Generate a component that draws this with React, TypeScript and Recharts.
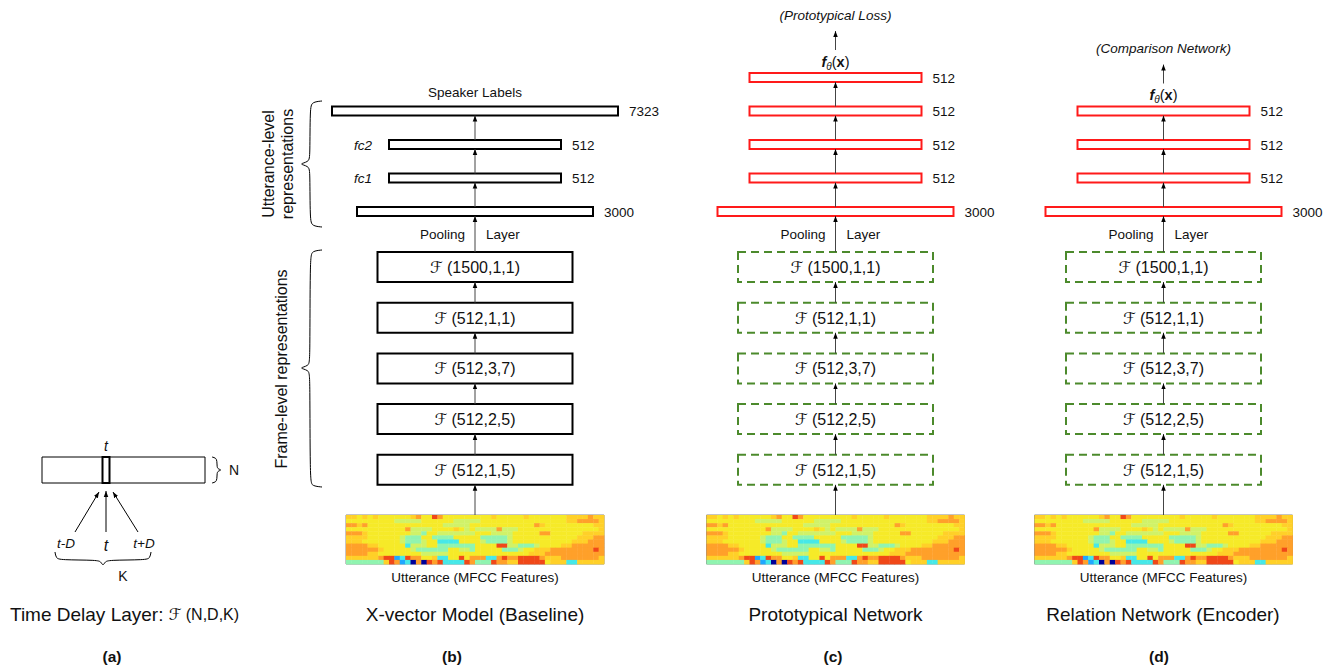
import React from "react";
import { ComposedChart, XAxis, YAxis, ReferenceArea, ReferenceLine, Scatter, Line } from "recharts";

const W = 1337;
const H = 668;
const FONT = "'Liberation Sans', Arial, sans-serif";
const SCRIPT = "'DejaVu Sans', sans-serif";
const GREEN = "#4c8a2c";
const RED = "#ff1a1a";

// layer specs
const frameLayers = ["(1500,1,1)", "(512,1,1)", "(512,3,7)", "(512,2,5)", "(512,1,5)"];
const xvecUnits = ["3000", "512", "512", "7323"];
const xvecNames = ["", "fc1", "fc2", "Speaker Labels"];
const protoUnits = ["3000", "512", "512", "512", "512"];
const relationUnits = ["3000", "512", "512", "512"];
const outputHeads = ["(Prototypical Loss)", "(Comparison Network)"];
const panelTitles = ["Time Delay Layer:", "X-vector Model (Baseline)", "Prototypical Network", "Relation Network (Encoder)"];
const panelLetters = ["(a)", "(b)", "(c)", "(d)"];
const delayLabels = ["t-D", "t", "t+D"];

// MFCC picture, one char per cell (0 = dark blue ... 9 = red)
const mfccRows = [
  "77676766 66667866 98666666 66676666 67666666 67777877",
  "66666666 65555566 66665555 56666666 66666666 67788887",
  "88786666 66666666 66555556 66666666 66687666 66666677",
  "66666666 66685555 66667656 55558555 66666666 66666667",
  "88876666 66665546 65555555 66655556 66668866 66667777",
  "77776666 66544466 44446666 64444456 66666666 66677788",
  "77766666 66544456 63333666 65444456 66666666 66777888",
  "88887766 66635556 64444444 66669955 44456666 77888888",
  "88888876 66665444 44466554 66666444 56677788 88888898",
  "88887766 66666655 55566666 66666666 66777888 88888888",
  "77777789 92398866 73366968 88338988 99998777 88888887",
  "44444447 98230809 89333398 44498877 99999677 73377777",
].map((r) => r.replace(/ /g, ""));

const jet: Record<string, string> = {
  "0": "#00009a",
  "1": "#0a3cff",
  "2": "#1ea8ff",
  "3": "#46e8e8",
  "4": "#90f4b0",
  "5": "#d0f268",
  "6": "#f6ea28",
  "7": "#ffd028",
  "8": "#ffa02a",
  "9": "#f04818",
};

type Rect = { x1: number; x2: number; y1: number; y2: number; stroke: string; sw: number; dash?: string; fill: string };
type Arrow = { x1: number; y1: number; x2: number; y2: number; color: string };
type Part = { t: string; italic?: boolean; bold?: boolean; size?: number; dy?: number; family?: string };
type Txt = { x: number; y: number; parts: Part[]; size: number; anchor?: string; rotate?: boolean; bold?: boolean; italic?: boolean };

const rects: Rect[] = [];
const arrows: Arrow[] = [];
const texts: Txt[] = [];
const braces: { x: number; y: number }[][] = [];
const cells: { x: number; y: number; c: string }[] = [];

const say = (x: number, y: number, t: string, size: number, o: Partial<Txt> = {}) =>
  texts.push({ x, y, parts: [{ t }], size, ...o });

const FRAME_TOP = 252;
const FRAME_STEP = 50.7;
const FRAME_H = 30;
const FRAME_W = 195;
const DENSE_BASE = 207;
const DENSE_STEP = 33.5;
const DENSE_H = 9;
const SPEC_TOP = 515;
const SPEC_H = 49;
const SPEC_W = 258;
const CW = SPEC_W / mfccRows[0].length;
const CH = SPEC_H / mfccRows.length;

const denseWidth = (u: string) => (u === "3000" ? 236 : u === "7323" ? 286 : 172);

const columns = [
  { cx: 475, units: xvecUnits, names: xvecNames, color: "#000", dashed: false, head: "" },
  { cx: 835.5, units: protoUnits, names: [] as string[], color: RED, dashed: true, head: outputHeads[0] },
  { cx: 1163.5, units: relationUnits, names: [] as string[], color: RED, dashed: true, head: outputHeads[1] },
];

columns.forEach((col) => {
  const { cx } = col;

  // spectrogram
  const sx = cx - SPEC_W / 2;
  mfccRows.forEach((row, r) =>
    row.split("").forEach((v, c) => cells.push({ x: sx + (c + 0.5) * CW, y: SPEC_TOP + (r + 0.5) * CH, c: jet[v] }))
  );
  rects.push({ x1: sx, x2: sx + SPEC_W, y1: SPEC_TOP, y2: SPEC_TOP + SPEC_H, stroke: "#8a8a8a", sw: 1, fill: "none" });
  say(cx, 577, "Utterance (MFCC Features)", 13.5);

  // frame-level layers
  const tops = frameLayers.map((_, i) => FRAME_TOP + i * FRAME_STEP);
  frameLayers.forEach((f, i) => {
    rects.push({
      x1: cx - FRAME_W / 2,
      x2: cx + FRAME_W / 2,
      y1: tops[i],
      y2: tops[i] + FRAME_H,
      stroke: col.dashed ? GREEN : "#000",
      sw: 2,
      dash: col.dashed ? "8 5" : undefined,
      fill: "none",
    });
    texts.push({ x: cx, y: tops[i] + FRAME_H / 2, parts: [{ t: "ℱ", family: SCRIPT }, { t: " " + f }], size: 16 });
    if (i > 0) arrows.push({ x1: cx, y1: tops[i], x2: cx, y2: tops[i - 1] + FRAME_H, color: "#444" });
  });
  arrows.push({ x1: cx, y1: SPEC_TOP, x2: cx, y2: tops[tops.length - 1] + FRAME_H, color: "#444" });

  // pooling
  arrows.push({ x1: cx, y1: tops[0], x2: cx, y2: DENSE_BASE + DENSE_H, color: "#444" });
  say(cx - 10, 234, "Pooling", 13.5, { anchor: "end" });
  say(cx + 11, 234, "Layer", 13.5, { anchor: "start" });

  // utterance-level layers
  col.units.forEach((u, k) => {
    const y1 = DENSE_BASE - k * DENSE_STEP;
    const w = denseWidth(u);
    rects.push({ x1: cx - w / 2, x2: cx + w / 2, y1, y2: y1 + DENSE_H, stroke: col.color, sw: 2, fill: "#fff" });
    say(cx + w / 2 + 11, y1 + DENSE_H / 2, u, 13.5, { anchor: "start" });
    if (k > 0) arrows.push({ x1: cx, y1: y1 + DENSE_STEP, x2: cx, y2: y1 + DENSE_H, color: "#444" });
    const nm = col.names[k];
    if (nm === "Speaker Labels") say(cx, y1 - 15, nm, 13.5);
    else if (nm) say(cx - 103, y1 + DENSE_H / 2, nm, 13.5, { anchor: "end", italic: true });
  });

  const topY = DENSE_BASE - (col.units.length - 1) * DENSE_STEP;
  if (col.head) {
    texts.push({
      x: cx,
      y: topY - 11.5,
      size: 14.5,
      parts: [
        { t: "f", italic: true, bold: true },
        { t: "θ", italic: true, size: 10, dy: 4 },
        { t: "(", dy: -4 },
        { t: "x", bold: true },
        { t: ")" },
      ],
    });
    arrows.push({ x1: cx, y1: topY - 23, x2: cx, y2: topY - 42, color: "#444" });
    say(cx, topY - 58.5, col.head, 13.5, { italic: true });
  }
});

// side braces for panel (b)
braces.push([
  { x: 322, y: 101 }, { x: 312, y: 102 }, { x: 310, y: 108 }, { x: 310, y: 156 }, { x: 309, y: 162 },
  { x: 298, y: 164 }, { x: 309, y: 166 }, { x: 310, y: 172 }, { x: 310, y: 220 }, { x: 312, y: 226 }, { x: 322, y: 227 },
]);
braces.push([
  { x: 322, y: 250 }, { x: 312, y: 251 }, { x: 310, y: 257 }, { x: 310, y: 360 }, { x: 309, y: 366 },
  { x: 298, y: 368 }, { x: 309, y: 370 }, { x: 310, y: 376 }, { x: 310, y: 481 }, { x: 312, y: 486 }, { x: 322, y: 487 },
]);
say(268, 164, "Utterance-level", 16, { rotate: true });
say(287, 164, "representations", 16, { rotate: true });
say(281, 369, "Frame-level representations", 16, { rotate: true });

// panel (a): time delay layer
rects.push({ x1: 42, x2: 205, y1: 457, y2: 483, stroke: "#000", sw: 1, fill: "#fff" });
rects.push({ x1: 102.5, x2: 109.5, y1: 457, y2: 483, stroke: "#000", sw: 2, fill: "none" });
say(106, 446, "t", 14, { italic: true });
braces.push([
  { x: 212, y: 457 }, { x: 216, y: 458 }, { x: 217, y: 461 }, { x: 217, y: 467 }, { x: 218, y: 469 },
  { x: 222, y: 470 }, { x: 218, y: 471 }, { x: 217, y: 473 }, { x: 217, y: 479 }, { x: 216, y: 482 }, { x: 212, y: 483 },
]);
say(229, 470, "N", 14, { anchor: "start" });
arrows.push({ x1: 75, y1: 532, x2: 99, y2: 492, color: "#000" });
arrows.push({ x1: 106, y1: 532, x2: 106, y2: 491, color: "#000" });
arrows.push({ x1: 138, y1: 532, x2: 113, y2: 492, color: "#000" });
say(66, 543, delayLabels[0], 13.5, { italic: true });
say(106, 545, delayLabels[1], 16, { italic: true });
say(144, 543, delayLabels[2], 13.5, { italic: true });
braces.push([
  { x: 55, y: 552 }, { x: 56, y: 558 }, { x: 60, y: 560 }, { x: 98, y: 560 }, { x: 101, y: 562 },
  { x: 103, y: 566 }, { x: 105, y: 562 }, { x: 108, y: 560 }, { x: 146, y: 560 }, { x: 150, y: 558 }, { x: 151, y: 552 },
]);
say(123, 576, "K", 14);

// captions
texts.push({
  x: 10,
  y: 614,
  size: 19,
  anchor: "start",
  parts: [{ t: panelTitles[0] + "  " }, { t: "ℱ", family: SCRIPT, size: 16 }, { t: " (N,D,K)", size: 16 }],
});
say(475, 614, panelTitles[1], 19);
say(835.5, 614, panelTitles[2], 19);
say(1163, 614, panelTitles[3], 19);
const letterX = [112, 452, 833, 1159];
panelLetters.forEach((l, i) => say(letterX[i], 656, l, 15.5, { bold: true }));

const TextShape = (props: any) => {
  const { cx, cy, payload } = props;
  const d: Txt = payload;
  return (
    <text
      x={cx}
      y={cy}
      fontFamily={FONT}
      fontSize={d.size}
      textAnchor={d.anchor ?? "middle"}
      dominantBaseline="central"
      fill="#111"
      fontStyle={d.italic ? "italic" : "normal"}
      fontWeight={d.bold ? "bold" : "normal"}
      transform={d.rotate ? `rotate(-90 ${cx} ${cy})` : undefined}
    >
      {d.parts.map((p, i) => (
        <tspan
          key={i}
          fontStyle={p.italic ? "italic" : undefined}
          fontWeight={p.bold ? "bold" : undefined}
          fontSize={p.size}
          fontFamily={p.family}
          dy={p.dy}
        >
          {p.t}
        </tspan>
      ))}
    </text>
  );
};

const CellShape = (props: any) => (
  <rect x={props.cx - CW / 2} y={props.cy - CH / 2} width={CW + 0.4} height={CH + 0.4} fill={props.payload.c} />
);

export default function App() {
  return (
    <div style={{ position: "absolute", left: 0, top: 0, width: W, height: H, background: "#fff" }}>
      <ComposedChart width={W} height={H} margin={{ top: 0, right: 0, bottom: 0, left: 0 }}>
        <defs>
          <marker id="head" viewBox="0 0 10 10" refX="10" refY="5" markerWidth="6" markerHeight="6" markerUnits="userSpaceOnUse" orient="auto">
            <path d="M0,1.2 L10,5 L0,8.8 z" fill="#000" />
          </marker>
        </defs>
        <XAxis type="number" dataKey="x" domain={[0, W]} scale="linear" allowDataOverflow hide />
        <YAxis type="number" dataKey="y" domain={[0, H]} scale="linear" allowDataOverflow reversed hide />
        <Scatter data={cells} shape={CellShape} isAnimationActive={false} />
        {rects.map((r, i) => (
          <ReferenceArea
            key={"r" + i}
            x1={r.x1}
            x2={r.x2}
            y1={r.y1}
            y2={r.y2}
            stroke={r.stroke}
            strokeWidth={r.sw}
            strokeDasharray={r.dash}
            fill={r.fill}
            fillOpacity={1}
            ifOverflow="visible"
          />
        ))}
        {arrows.map((a, i) => (
          <ReferenceLine
            key={"a" + i}
            segment={[{ x: a.x1, y: a.y1 }, { x: a.x2, y: a.y2 }]}
            stroke={a.color}
            strokeWidth={1}
            markerEnd="url(#head)"
            ifOverflow="visible"
          />
        ))}
        {braces.map((b, i) => (
          <Line
            key={"b" + i}
            data={b}
            dataKey="y"
            type="basis"
            stroke="#000"
            strokeWidth={1}
            dot={false}
            activeDot={false}
            isAnimationActive={false}
          />
        ))}
        <Scatter data={texts} shape={TextShape} isAnimationActive={false} />
      </ComposedChart>
    </div>
  );
}
